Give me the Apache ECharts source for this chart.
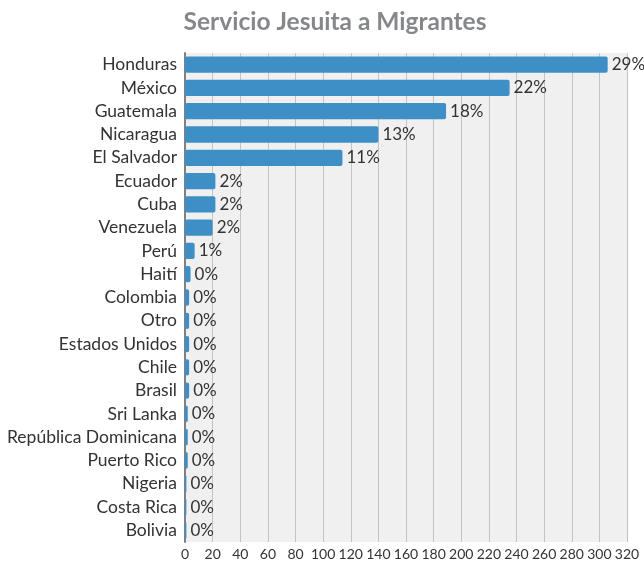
<!DOCTYPE html>
<html><head><meta charset="utf-8">
<script src="https://cdn.jsdelivr.net/npm/echarts@6/dist/echarts.min.js"></script>
<style>html,body{margin:0;padding:0;background:#fff}#c{width:644px;height:564px}</style>
</head><body><div id="c"></div>
<script>
const categories = ["Honduras","México","Guatemala","Nicaragua","El Salvador","Ecuador","Cuba","Venezuela","Perú","Haití","Colombia","Otro","Estados Unidos","Chile","Brasil","Sri Lanka","República Dominicana","Puerto Rico","Nigeria","Costa Rica","Bolivia"];
const values = [306,235,189,140,114,22,22,20,7,4,3,3,3,3,3,2,2,2,1,1,1];
const pctLabels = ["29%","22%","18%","13%","11%","2%","2%","2%","1%","0%","0%","0%","0%","0%","0%","0%","0%","0%","0%","0%","0%"];
const xTicks = {min:0, max:320, interval:20};

const FONT = 'Lato';
const chart = echarts.init(document.getElementById('c'));
chart.setOption({
  animation:false,
  title:{text:'Servicio Jesuita a Migrantes', left:330, textAlign:'center', top:5,
    textStyle:{fontFamily:FONT, fontSize:24.5, fontWeight:'bold', color:'#85878a'}},
  grid:{left:185, right:17, top:53, bottom:22, containLabel:false,
    show:true, backgroundColor:'#f0f0f0', borderWidth:0},
  xAxis:{type:'value', min:xTicks.min, max:xTicks.max, interval:xTicks.interval,
    axisLine:{show:false}, axisTick:{show:false},
    axisLabel:{fontFamily:FONT, fontSize:14, color:'#333', margin:5, hideOverlap:false},
    splitLine:{show:true, lineStyle:{color:'#c4c4c4', width:1}}},
  yAxis:{type:'category', data:categories, inverse:true,
    axisLine:{show:true, lineStyle:{color:'#808080', width:2}}, axisTick:{show:false},
    axisLabel:{interval:0, fontFamily:FONT, fontSize:17.5, color:'#333', margin:8}},
  series:[{type:'bar', data:values, barCategoryGap:'30%',
    itemStyle:{color:'#3d8fc6', borderRadius:2},
    label:{show:true, position:'right', distance:4, fontFamily:FONT, fontSize:17, color:'#333',
      formatter:p=>pctLabels[p.dataIndex]}}]
});
</script></body></html>
